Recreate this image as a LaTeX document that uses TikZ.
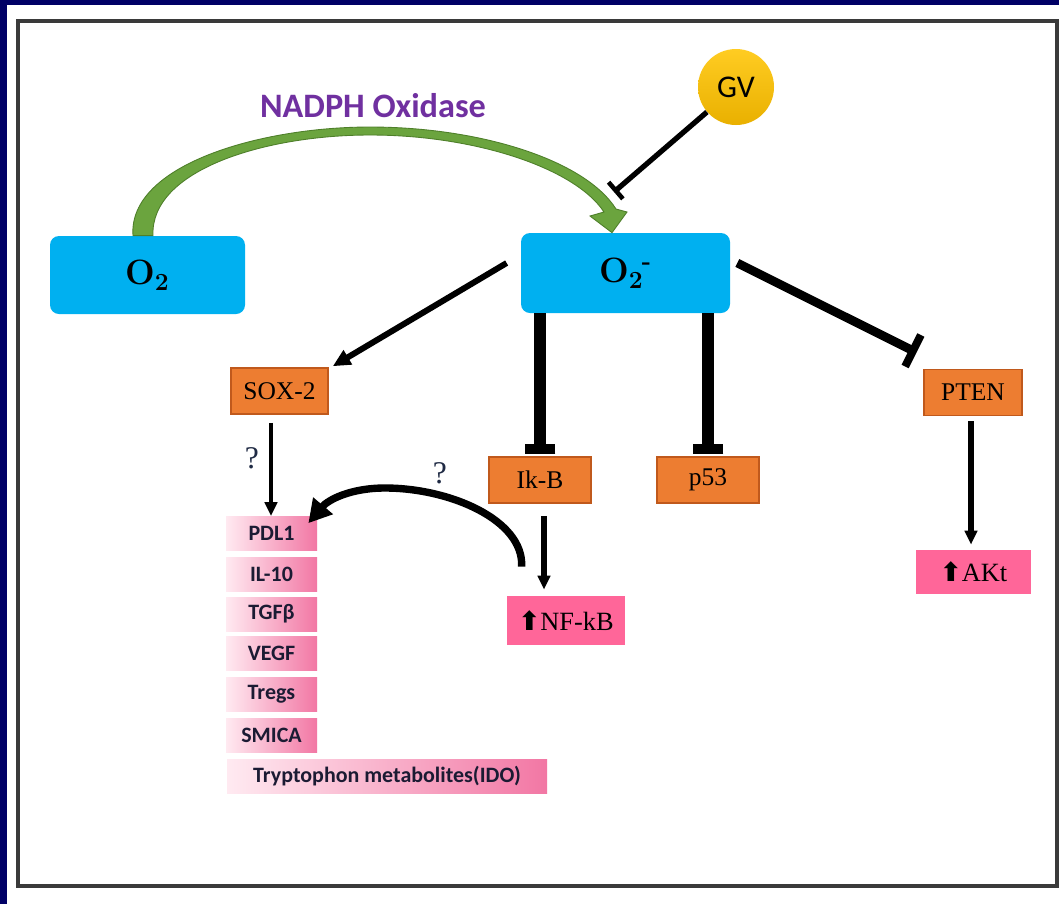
\documentclass[tikz,border=0pt]{standalone}
\usepackage{fontspec}
\usetikzlibrary{arrows.meta,calc}
\newfontfamily\calib{Carlito}
\newfontfamily\serifL{Liberation Serif}
\newfontfamily\dejavu{DejaVu Sans}
\definecolor{navyC}{HTML}{000066}
\definecolor{frameC}{HTML}{3A3A3A}
\definecolor{cyanC}{HTML}{00B0F0}
\definecolor{orangeC}{HTML}{ED7D31}
\definecolor{orangeD}{HTML}{C0591C}
\definecolor{pinkC}{HTML}{FF6699}
\definecolor{pinkL}{HTML}{FFEAF1}
\definecolor{pinkR}{HTML}{F277A4}
\definecolor{textD}{HTML}{1B1B33}
\definecolor{gvT}{HTML}{FFCC22}
\definecolor{gvB}{HTML}{E9B000}
\definecolor{purpleC}{HTML}{7030A0}
\definecolor{greenC}{HTML}{6BA43E}
\definecolor{greenD}{HTML}{4E7F2A}
\definecolor{qC}{HTML}{1F2A44}
\tikzset{
  cyanbox/.style={fill=cyanC, rounded corners=0.18cm, inner sep=0pt},
  orangebox/.style={fill=orangeC, draw=orangeD, line width=0.9pt, inner sep=0pt,
    minimum width=#1*0.02cm, minimum height=46*0.02cm, font=\serifL\fontsize{14.5}{16}\selectfont},
  pinkbox/.style={fill=pinkC, inner sep=0pt, font=\serifL\fontsize{15}{17}\selectfont},
  gradbox/.style={left color=pinkL, right color=pinkR, inner sep=0pt, text=textD,
    minimum width=#1*0.02cm, minimum height=34*0.02cm, font=\calib\bfseries\fontsize{12.5}{14}\selectfont},
  act/.style={line width=#1, -{Triangle[length=10pt,width=9pt]}},
  inhV/.style={line width=6.8pt, -{Bar[width=17.6pt,line width=5.5pt]}},
  qmark/.style={font=\serifL\fontsize{18}{20}\selectfont, text=qC},
}
\newcommand\uparr{{\dejavu\bfseries ⬆}}
\begin{document}
\begin{tikzpicture}[x=0.02cm,y=-0.02cm]
\useasboundingbox (0,0) rectangle (1059,904);
\fill[navyC] (0,0) rectangle (1059,904);
\fill[white] (7,5) rectangle (1059,904);
\draw[line width=1.8pt, frameC] (18,21) rectangle (1057,886);

% nodes
\node[cyanbox, minimum width=195*0.02cm, minimum height=78*0.02cm] (o2) at (147.5,275)
  {\fontsize{20}{24}\selectfont\bfseries O\textsubscript{2}};
\node[cyanbox, minimum width=209*0.02cm, minimum height=80*0.02cm] (o2m) at (625.5,273)
  {\fontsize{20}{24}\selectfont\bfseries O\textsubscript{2}\kern-1pt\textsuperscript{-}};
\node[circle, minimum size=76*0.02cm, inner sep=0pt, top color=gvT, bottom color=gvB,
  font=\calib\fontsize{18}{20}\selectfont] (gv) at (736,87) {GV};
\node[text=purpleC, font=\calib\bfseries\fontsize{19.5}{22}\selectfont] (nadph) at (373,106) {NADPH Oxidase};

\node[orangebox=97] (sox) at (279.5,391) {SOX-2};
\node[orangebox=102] (ikb) at (540,480) {Ik-B};
\node[orangebox=102] (p53) at (708,480) {p53};
\node[orangebox=98] (pten) at (973,392.5) {PTEN};

\node[pinkbox, minimum width=115*0.02cm, minimum height=44*0.02cm] (akt) at (973.5,572) {\uparr AKt};
\node[pinkbox, minimum width=118*0.02cm, minimum height=49*0.02cm] (nfkb) at (566,620.5) {\uparr NF-kB};

\node[gradbox=91] (pdl1) at (271.5,533.5) {PDL1};
\node[gradbox=91] (il10) at (271.5,574) {IL-10};
\node[gradbox=91] (tgfb) at (271.5,614) {TGFβ};
\node[gradbox=91] (vegf) at (271.5,653.5) {VEGF};
\node[gradbox=91] (tregs) at (271.5,694.5) {Tregs};
\node[gradbox=91] (smica) at (271.5,735.5) {SMICA};
\node[gradbox=320] (ido) at (387,776) {Tryptophon metabolites(IDO)};

\node[qmark] (q1) at (252,458) {?};
\node[qmark] (q2) at (440,473) {?};

% NADPH oxidase curved arrow (O2 -> O2-)
\filldraw[fill=greenC, draw=greenD, line width=0.5pt]
  ($(o2.north)+(-14.5,0)$) .. controls (128,165) and (260,127) .. (370,127)
  .. controls (480,127) and (585,160) .. (616,209)
  -- (627,212) -- ($(o2m.north)+(-13.5,0)$) -- (590,216) -- (604,212)
  .. controls (575,168) and (475,135) .. (370,135)
  .. controls (265,135) and (150,170) .. ($(o2.north)+(5.5,0)$) -- cycle;

% GV inhibits O2-
\coordinate (gvend) at (614,192);
\draw[line width=3pt, -{Bar[width=12.5pt,line width=2.6pt]}] (gv) -- (gvend);

% O2- -> SOX-2
\draw[act=3.4pt] ($(o2m.west)+(-14,-10)$) -- ($(sox.north east)+(4,-1)$);

% O2- inhibits Ik-B and p53
\draw[inhV, shorten >=1.5pt] (o2m.south -| ikb.north) -- (ikb.north);
\draw[inhV, shorten >=1.5pt] (o2m.south -| p53.north) -- (p53.north);

% O2- inhibits PTEN
\coordinate (ptenend) at (916.5,352.5);
\draw[line width=5pt, -{Bar[width=20pt,line width=4.5pt]}] ($(o2m.east)+(7,-10)$) -- (ptenend);

% SOX-2 -> PDL1
\coordinate (soxS) at ($(sox.south)+(-8.5,0)$);
\draw[line width=2.8pt, -{Triangle[length=8pt,width=7pt]}, shorten <=8*0.02cm] (soxS) -- (soxS |- pdl1.north);

% Ik-B -> NF-kB
\coordinate (ikbS) at ($(ikb.south)+(4,0)$);
\draw[line width=3.2pt, -{Triangle[length=8pt,width=7pt]}, shorten <=12*0.02cm, shorten >=6*0.02cm] (ikbS) -- (ikbS |- nfkb.north);

% PTEN -> AKt
\draw[line width=3.6pt, -{Triangle[length=8pt,width=7pt]}, shorten <=5*0.02cm, shorten >=5*0.02cm] ($(pten.south)+(-2,0)$) -- ($(akt.north)+(-2.5,0)$);

% NF-kB -> PDL1 curved
\draw[line width=4.2pt, -{Triangle[length=13pt,width=14pt]}]
  ($(nfkb.north west)+(15,-29)$) .. controls (524,520) and (450,488) .. (385,488)
  .. controls (350,488) and (328,500) .. ($(pdl1.north east)+(-9,7)$);
\end{tikzpicture}
\end{document}
